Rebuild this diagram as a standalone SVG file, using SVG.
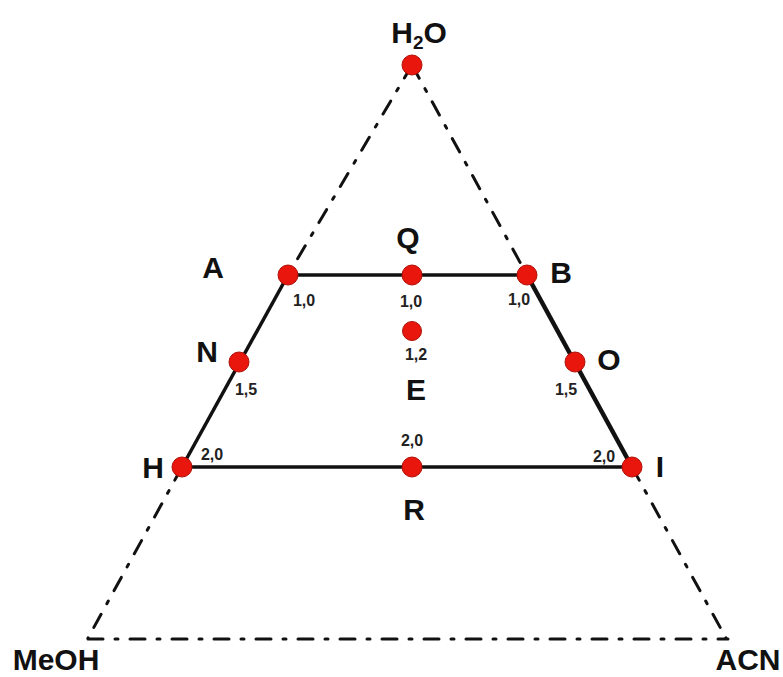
<svg xmlns="http://www.w3.org/2000/svg" width="783" height="677" viewBox="0 0 783 677">
<style>
.dd{stroke:#111;stroke-width:3;fill:none;stroke-dasharray:15 12 3 12;stroke-linecap:round}
.sl{stroke:#111;stroke-width:3.5;fill:none}
.pt{fill:#e8160c;stroke:#b01008;stroke-width:1}
.lb{font-family:"Liberation Sans",Arial,sans-serif;font-weight:bold;font-size:30px;fill:#111;text-anchor:middle}
.sm{font-family:"Liberation Sans",Arial,sans-serif;font-weight:bold;font-size:16px;fill:#222;text-anchor:middle}
</style>
<rect width="783" height="677" fill="#fff"/>
<g id="connectors">
<line class="dd" x1="412" y1="65" x2="288" y2="275"/>
<line class="dd" x1="412" y1="65" x2="527" y2="275"/>
<line class="dd" x1="182" y1="467" x2="88" y2="638"/>
<line class="dd" x1="632" y1="467" x2="726" y2="638"/>
<line class="dd" x1="88" y1="639" x2="728" y2="639"/>
<line class="sl" x1="288" y1="275" x2="527" y2="275"/>
<line class="sl" x1="288" y1="275" x2="182" y2="467"/>
<line class="sl" x1="527" y1="275" x2="632" y2="467" style="stroke-width:4.5"/>
<line class="sl" x1="182" y1="467" x2="632" y2="467"/>
</g>
<g id="node-H2O"><circle class="pt" cx="412" cy="65" r="10"/><text class="lb" x="419" y="43">H<tspan font-size="19" dy="6">2</tspan><tspan dy="-6">O</tspan></text></g>
<g id="node-A"><circle class="pt" cx="288" cy="275" r="10"/><text class="lb" x="213" y="278">A</text><text class="sm" x="304" y="306">1,0</text></g>
<g id="node-Q"><circle class="pt" cx="412" cy="275" r="10"/><text class="lb" x="408" y="248">Q</text><text class="sm" x="411" y="307">1,0</text></g>
<g id="node-B"><circle class="pt" cx="527" cy="275" r="10"/><text class="lb" x="561" y="283">B</text><text class="sm" x="519" y="305">1,0</text></g>
<g id="node-E"><circle class="pt" cx="412" cy="331" r="9.5"/><text class="lb" x="416" y="400">E</text><text class="sm" x="416" y="360">1,2</text></g>
<g id="node-N"><circle class="pt" cx="239" cy="362" r="10"/><text class="lb" x="207" y="362">N</text><text class="sm" x="246" y="395">1,5</text></g>
<g id="node-O"><circle class="pt" cx="575" cy="362" r="10"/><text class="lb" x="609" y="370">O</text><text class="sm" x="566" y="395">1,5</text></g>
<g id="node-H"><circle class="pt" cx="182" cy="467" r="10"/><text class="lb" x="153" y="478">H</text><text class="sm" x="212" y="460">2,0</text></g>
<g id="node-R"><circle class="pt" cx="412" cy="467" r="10"/><text class="lb" x="414" y="520">R</text><text class="sm" x="412" y="446">2,0</text></g>
<g id="node-I"><circle class="pt" cx="632" cy="467" r="10"/><text class="lb" x="660" y="477">I</text><text class="sm" x="604" y="462">2,0</text></g>
<g id="node-MeOH"><text class="lb" x="56" y="670">MeOH</text></g>
<g id="node-ACN"><text class="lb" x="748" y="670">ACN</text></g>
</svg>
